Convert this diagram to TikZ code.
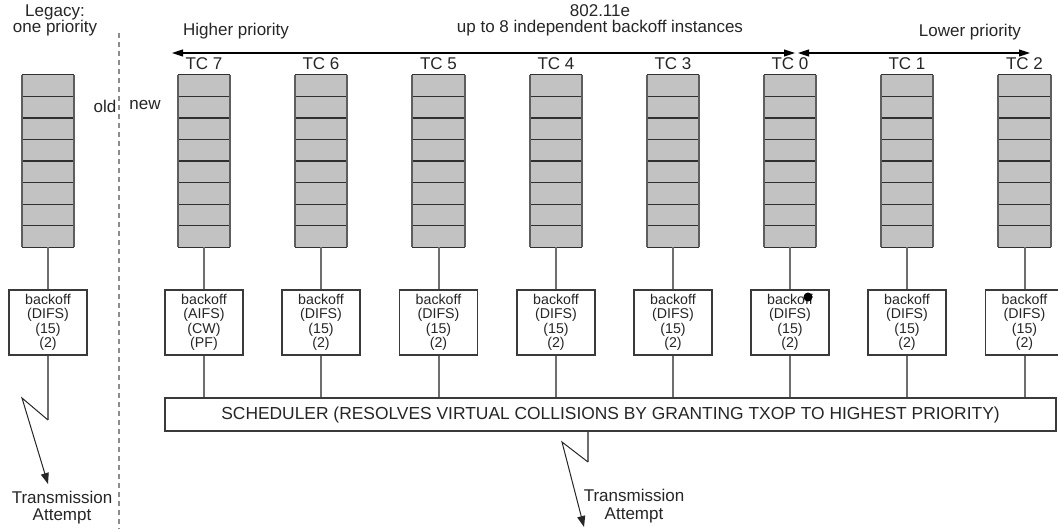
\documentclass[tikz,border=0pt]{standalone}
\usepackage{fontspec}
\setmainfont{Liberation Sans}
\usetikzlibrary{arrows.meta,calc}
\definecolor{qfill}{HTML}{C2C2C2}
\definecolor{qside}{HTML}{5E5E5E}
\definecolor{qline}{HTML}{303030}
\definecolor{connc}{HTML}{6E6E6E}
\definecolor{boxc}{HTML}{3A3A3A}
\definecolor{txt}{HTML}{262626}
\newcommand{\lbl}{\fontsize{17}{17.5}\selectfont}
\newcommand{\tightlbl}{\fontsize{17}{16}\selectfont}
\newcommand{\boxfont}{\fontsize{14.2}{14.4}\selectfont}
\tikzset{
  queue/.style={fill=qfill, minimum width=52pt, minimum height=172pt, inner sep=0pt},
  bobox/.style={draw=boxc, line width=1.1pt, fill=white, minimum width=78pt, minimum height=65pt,
                inner sep=0pt, align=center, font=\boxfont, text=txt},
  schbox/.style={draw=boxc, line width=1.1pt, fill=white, minimum width=891pt, minimum height=33pt,
                inner sep=0pt, font=\fontsize{17.4}{19}\selectfont, text=txt},
  label/.style={inner sep=0pt, font=\lbl, text=txt, align=center},
  conn/.style={draw=connc, line width=2pt},
  zig/.style={draw=black!85, line width=1pt, -{Triangle[length=11pt,width=8pt]}},
  prio/.style={draw=black, line width=1.1pt, {Triangle[length=11pt,width=7pt]}-{Triangle[length=11pt,width=7pt]}},
  divider/.style={draw=black!45, line width=1.5pt, dash pattern=on 5pt off 4pt},
}
% draws the cells and side walls of a queue node
\newcommand{\queuecells}[1]{%
  \foreach \k in {0,...,8}{%
    \draw[qline, line width=1.2pt] ($(#1.north west)!\k/8!(#1.south west)$) -- ($(#1.north east)!\k/8!(#1.south east)$);
  }
  \draw[qside, line width=2.2pt] (#1.north west) -- (#1.south west);
  \draw[qside, line width=2.2pt] (#1.north east) -- (#1.south east);
}
\begin{document}
\begin{tikzpicture}[x=1pt,y=-1pt]
\useasboundingbox (0,0) rectangle (1058,528);
\clip (0,0) rectangle (1058,528);
\fill[white] (0,0) rectangle (1058,528);

% ---- legacy side ----
\node[label, font=\tightlbl] (leg) at (55,20.5) {Legacy:\\one priority};
\node[queue] (qL) at (48,161) {};
\queuecells{qL}
\node[bobox] (bL) at (48,322.5) {backoff\\(DIFS)\\(15)\\(2)};
\draw[conn] (qL.south) -- (bL.north);
\coordinate (lz1) at (48,420);
\coordinate (lz2) at (22,398);
\coordinate (lt) at (48,484);
\draw[conn] (bL.south) -- (lz1);
\draw[zig] (lz1) -- (lz2) -- (lt);
\node[label] (ltx) at (62,507.5) {Transmission\\Attempt};

% ---- divider ----
\coordinate (dv1) at (119,33);
\coordinate (dv2) at (119,530);
\draw[divider] (dv1) -- (dv2);
\node[label] (old) at (105,106) {old};
\node[label] (new) at (145,105) {new};

% ---- 802.11e header ----
\node[label, font=\tightlbl] (hd) at (600,20) {802.11e\\up to 8 independent backoff instances};
\node[label] (hp) at (236,31) {Higher priority};
\node[label] (lp) at (970,32) {Lower priority};
\coordinate (a1) at (172,53);
\coordinate (a2) at (795,53);
\coordinate (a3) at (798,53);
\coordinate (a4) at (1030,53);
\draw[prio] (a1) -- (a2);
\draw[prio] (a3) -- (a4);

% ---- scheduler ----
\node[schbox] (sch) at (610.5,414.5) {SCHEDULER (RESOLVES VIRTUAL COLLISIONS BY GRANTING TXOP TO HIGHEST PRIORITY)};

% ---- traffic classes ----
\foreach \n/\x/\tc/\p in {7/204/TC 7/{(AIFS)\\(CW)\\(PF)},
                         6/321/TC 6/{(DIFS)\\(15)\\(2)},
                         5/438.5/TC 5/{(DIFS)\\(15)\\(2)},
                         4/556/TC 4/{(DIFS)\\(15)\\(2)},
                         3/673/TC 3/{(DIFS)\\(15)\\(2)},
                         0/790/TC 0/{(DIFS)\\(15)\\(2)},
                         1/907/TC 1/{(DIFS)\\(15)\\(2)},
                         2/1024.5/TC 2/{(DIFS)\\(15)\\(2)}}{
  \node[label] (t\n) at (\x,64) {\tc};
  \node[queue] (q\n) at (\x,161) {};
  \queuecells{q\n}
  \node[bobox] (b\n) at (\x,322.5) {backoff\\\p};
  \draw[conn] (q\n.south) -- (b\n.north);
  \draw[conn] (b\n.south) -- (b\n.south |- sch.north);
}
% ink blot on the TC 0 box
\fill[black] (808,297) circle (4.5pt);

% ---- scheduler output ----
\coordinate (sz1) at (588,462);
\coordinate (sz2) at (562,442);
\coordinate (st) at (584,527);
\draw[conn] (sch.south -| sz1) -- (sz1);
\draw[zig] (sz1) -- (sz2) -- (st);
\node[label] (stx) at (634,506) {Transmission\\Attempt};
\end{tikzpicture}
\end{document}
